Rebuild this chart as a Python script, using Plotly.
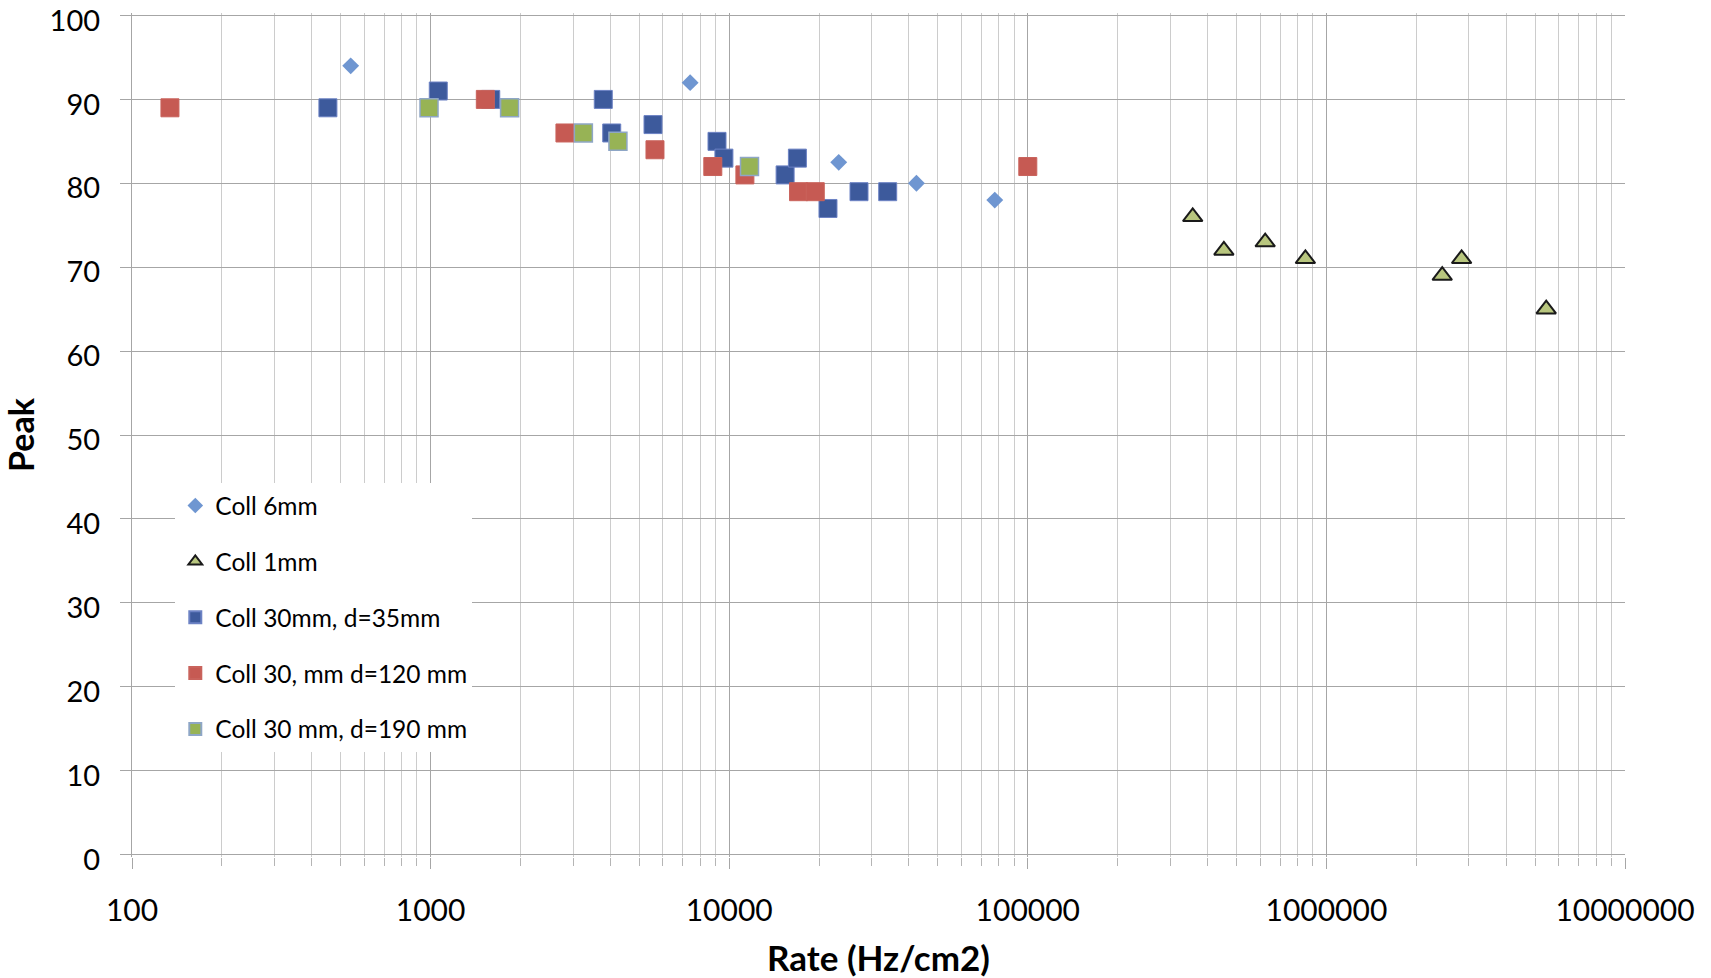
import plotly.graph_objects as go

# ---- data ----
coll6_x = [540, 7400, 23270, 42370, 77520]
coll6_y = [94, 92, 82.5, 80, 78]

coll1_x = [356700, 453600, 623700, 850500, 2443000, 2837000, 5447000]
coll1_y = [76, 72, 73, 71, 69, 71, 65]

coll30_35_x = [453, 1061, 1590, 3787, 4042, 5557, 9103, 9601, 15390, 16920, 21420, 27210, 33950]
coll30_35_y = [89, 91, 90, 90, 86, 87, 85, 83, 81, 83, 77, 79, 79]

coll30_120_x = [134, 1525, 2818, 5642, 8813, 11287, 17070, 19420, 100000]
coll30_120_y = [89, 90, 86, 84, 82, 81, 79, 79, 82]

coll30_190_x = [988, 1839, 3248, 4240, 11695]
coll30_190_y = [89, 89, 86, 85, 82]

x_tickvals = [100, 1000, 10000, 100000, 1000000, 10000000]
x_ticktext = ["100", "1000", "10000", "100000", "1000000", "10000000"]
y_tickvals = [0, 10, 20, 30, 40, 50, 60, 70, 80, 90, 100]

FONT = "Lato"

fig = go.Figure()

fig.add_trace(go.Scatter(
    x=coll6_x, y=coll6_y, mode="markers", name="Coll 6mm", legendgroup="a",
    marker=dict(symbol="diamond", size=13, color="#6F96D1", line=dict(width=0))))
fig.add_trace(go.Scatter(
    x=coll1_x, y=coll1_y, mode="markers", name="Coll 1mm", legendgroup="b",
    marker=dict(symbol="triangle-up", size=17, color="#B8C67E", line=dict(width=2, color="#1a1a1a"))))
fig.add_trace(go.Scatter(
    x=coll30_35_x, y=coll30_35_y, mode="markers", name="Coll 30mm, d=35mm", legendgroup="c",
    marker=dict(symbol="square", size=18, color="#3D5A9C", line=dict(width=1, color="#6C82C4"))))
fig.add_trace(go.Scatter(
    x=coll30_120_x, y=coll30_120_y, mode="markers", name="Coll 30, mm d=120 mm", legendgroup="d",
    marker=dict(symbol="square", size=18, color="#C65A53", line=dict(width=1, color="#C9635C"))))
fig.add_trace(go.Scatter(
    x=coll30_190_x, y=coll30_190_y, mode="markers", name="Coll 30 mm, d=190 mm", legendgroup="e",
    marker=dict(symbol="square", size=18, color="#97B355", line=dict(width=1.5, color="#8EA6C6"))))

fig.update_layout(
    width=1711, height=978,
    margin=dict(l=132, r=86, t=12.5, b=120.5, autoexpand=False),
    paper_bgcolor="white", plot_bgcolor="white",
    font=dict(family=FONT, size=30, color="#000000"),
    showlegend=True,
    legend=dict(
        x=0.029, y=0.443, xanchor="left", yanchor="top",
        bgcolor="white", borderwidth=0,
        font=dict(family=FONT, size=24.5, color="#000000"),
        tracegroupgap=21, itemsizing="constant",
        entrywidth=315, entrywidthmode="pixels",
    ),
)

fig.update_xaxes(
    type="log", range=[2, 7],
    tickvals=x_tickvals, ticktext=x_ticktext,
    showgrid=True, gridcolor="#A6A6A6", gridwidth=1.3,
    ticks="outside", ticklen=11, tickcolor="#A6A6A6", tickwidth=1.3,
    ticklabelstandoff=16,
    tickfont=dict(family=FONT, size=30),
    minor=dict(dtick="D1", showgrid=True, gridcolor="#CCCCCC", gridwidth=1.3,
               ticks="outside", ticklen=8, tickcolor="#B5B5B5"),
    showline=False, zeroline=False,
    title=dict(text="<b>Rate (Hz/cm2)</b>", font=dict(family=FONT, size=35), standoff=20),
)
fig.update_yaxes(
    range=[-0.3, 100.3], tickvals=y_tickvals,
    showgrid=True, gridcolor="#A6A6A6", gridwidth=1.3,
    ticks="outside", ticklen=11, tickcolor="#A6A6A6", tickwidth=1.3,
    ticklabelstandoff=14, ticklabeloverflow="allow", ticklabelshift=5,
    tickfont=dict(family=FONT, size=29),
    showline=True, linecolor="#A6A6A6", linewidth=1.3,
    zeroline=False,
    title=dict(text="<b>Peak</b>", font=dict(family=FONT, size=34), standoff=11),
)

fig.write_html("out.html")
